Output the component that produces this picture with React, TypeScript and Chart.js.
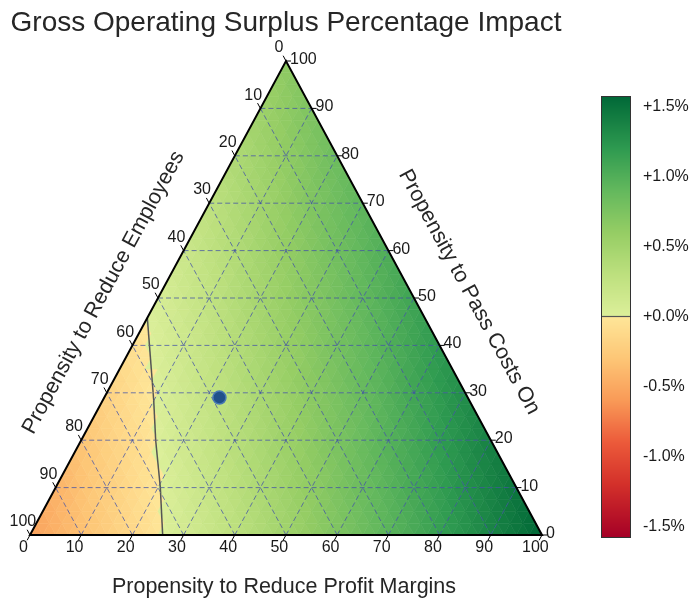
import React, { useEffect, useRef } from "react";
import { Chart, registerables } from "chart.js";

Chart.register(...registerables);

const TITLE = "Gross Operating Surplus Percentage Impact";
const BOTTOM_LABEL = "Propensity to Reduce Profit Margins";
const LEFT_LABEL = "Propensity to Reduce Employees";
const RIGHT_LABEL = "Propensity to Pass Costs On";

const AXIS_TICKS = [0, 10, 20, 30, 40, 50, 60, 70, 80, 90, 100];

// GOS impact (%) at grid nodes. Each row is a fixed "Pass Costs On" level,
// entries run along "Reduce Profit Margins" = 0, 10, 20, ...
const impactPass0 = [-0.55, -0.34, -0.13, 0.09, 0.3, 0.51, 0.73, 0.94, 1.15, 1.36, 1.575];
const impactPass10 = [-0.43, -0.22, -0.01, 0.21, 0.42, 0.63, 0.85, 1.06, 1.27, 1.48];
const impactPass20 = [-0.31, -0.1, 0.12, 0.33, 0.54, 0.75, 0.97, 1.18, 1.39];
const impactPass30 = [-0.19, 0.02, 0.24, 0.45, 0.66, 0.87, 1.09, 1.3];
const impactPass40 = [-0.07, 0.14, 0.36, 0.57, 0.78, 0.99, 1.21];
const impactPass50 = [0.05, 0.26, 0.48, 0.69, 0.9, 1.11];
const impactPass60 = [0.17, 0.38, 0.6, 0.81, 1.02];
const impactPass70 = [0.29, 0.5, 0.72, 0.93];
const impactPass80 = [0.41, 0.62, 0.84];
const impactPass90 = [0.53, 0.74];
const impactPass100 = [0.65];

// current scenario marker (ternary coordinates, %)
const POINT_PROFIT = [22.5];
const POINT_PASS = [29];
const POINT_EMPLOYEES = [48.5];

const CBAR_MIN = -1.575;
const CBAR_MAX = 1.575;
const CBAR_TICKS = [1.5, 1.0, 0.5, 0.0, -0.5, -1.0, -1.5];
const CBAR_LABELS = ["+1.5%", "+1.0%", "+0.5%", "+0.0%", "-0.5%", "-1.0%", "-1.5%"];

const NEG_STOPS: [number, string][] = [
  [-1.575, "#a50026"],
  [-1.2, "#d3302a"],
  [-0.9, "#ec5a3a"],
  [-0.6, "#f99a57"],
  [-0.3, "#fdc676"],
  [0, "#fee698"],
];
const POS_STOPS: [number, string][] = [
  [0, "#dcef9a"],
  [0.3, "#bde07e"],
  [0.6, "#95cd64"],
  [0.9, "#63b85d"],
  [1.2, "#2e9a50"],
  [1.575, "#006837"],
];

const GRID = [
  impactPass0, impactPass10, impactPass20, impactPass30, impactPass40, impactPass50,
  impactPass60, impactPass70, impactPass80, impactPass90, impactPass100,
];
const N = GRID.length - 1;
const STEP = 100 / N;
const SUB = 4;

const FONT = "'Liberation Sans', Arial, Helvetica, sans-serif";

function hexToRgb(h: string) {
  const n = parseInt(h.slice(1), 16);
  return [(n >> 16) & 255, (n >> 8) & 255, n & 255];
}

function colorFor(v: number) {
  const stops = v < 0 ? NEG_STOPS : POS_STOPS;
  if (v <= stops[0][0]) return stops[0][1];
  if (v >= stops[stops.length - 1][0]) return stops[stops.length - 1][1];
  for (let k = 0; k < stops.length - 1; k++) {
    const [v0, c0] = stops[k];
    const [v1, c1] = stops[k + 1];
    if (v >= v0 && v <= v1) {
      const t = (v - v0) / (v1 - v0);
      const a = hexToRgb(c0);
      const b = hexToRgb(c1);
      const r = Math.round(a[0] + (b[0] - a[0]) * t);
      const g = Math.round(a[1] + (b[1] - a[1]) * t);
      const bl = Math.round(a[2] + (b[2] - a[2]) * t);
      return `rgb(${r},${g},${bl})`;
    }
  }
  return stops[0][1];
}

function node(i: number, j: number) {
  return GRID[j][i];
}

// value inside the grid (grid units), linear within each grid triangle
function interp(b: number, p: number) {
  const i = Math.floor(b);
  const j = Math.floor(p);
  const fb = b - i;
  const fp = p - j;
  if (fb + fp <= 1) {
    return node(i, j) * (1 - fb - fp) + node(i + 1, j) * fb + node(i, j + 1) * fp;
  }
  return node(i + 1, j + 1) * (fb + fp - 1) + node(i + 1, j) * (1 - fp) + node(i, j + 1) * (1 - fb);
}

const toX = (profit: number, pass: number) => profit + pass / 2;

const ternaryPlugin = {
  id: "ternary",
  beforeDatasetsDraw(chart: any) {
    const ctx: CanvasRenderingContext2D = chart.ctx;
    const xs = chart.scales.x;
    const ys = chart.scales.y;
    const P = (b: number, p: number) => [xs.getPixelForValue(toX(b, p)), ys.getPixelForValue(p)];

    ctx.save();
    // heatmap
    const M = N * SUB;
    const fs = 100 / M;
    const tri = (pts: number[][], v: number) => {
      const c = colorFor(v);
      ctx.beginPath();
      const a = P(pts[0][0] * fs, pts[0][1] * fs);
      ctx.moveTo(a[0], a[1]);
      for (let k = 1; k < 3; k++) {
        const q = P(pts[k][0] * fs, pts[k][1] * fs);
        ctx.lineTo(q[0], q[1]);
      }
      ctx.closePath();
      ctx.fillStyle = c;
      ctx.strokeStyle = c;
      ctx.lineWidth = 0.6;
      ctx.fill();
      ctx.stroke();
    };
    for (let j = 0; j < M; j++) {
      for (let i = 0; i < M - j; i++) {
        tri([[i, j], [i + 1, j], [i, j + 1]], interp((i + 1 / 3) / SUB, (j + 1 / 3) / SUB));
        if (i + j <= M - 2) {
          tri([[i + 1, j], [i, j + 1], [i + 1, j + 1]], interp((i + 2 / 3) / SUB, (j + 2 / 3) / SUB));
        }
      }
    }

    // dashed grid
    ctx.setLineDash([5, 3]);
    ctx.strokeStyle = "rgba(66, 80, 165, 0.75)";
    ctx.lineWidth = 1;
    const line = (a: number[], b: number[]) => {
      ctx.beginPath();
      ctx.moveTo(a[0], a[1]);
      ctx.lineTo(b[0], b[1]);
      ctx.stroke();
    };
    for (const v of AXIS_TICKS) {
      if (v === 0 || v === 100) continue;
      line(P(0, v), P(100 - v, v));
      line(P(v, 0), P(v, 100 - v));
      line(P(100 - v, 0), P(0, 100 - v));
    }
    ctx.setLineDash([]);

    // zero contour (marching triangles over the grid)
    ctx.strokeStyle = "#555555";
    ctx.lineWidth = 1.5;
    const seg = (nodes: number[][]) => {
      const vals = nodes.map((n) => node(n[0], n[1]));
      const pts: number[][] = [];
      for (let k = 0; k < 3; k++) {
        const a = k, b = (k + 1) % 3;
        if ((vals[a] < 0) !== (vals[b] < 0)) {
          const t = vals[a] / (vals[a] - vals[b]);
          const bb = (nodes[a][0] + (nodes[b][0] - nodes[a][0]) * t) * STEP;
          const pp = (nodes[a][1] + (nodes[b][1] - nodes[a][1]) * t) * STEP;
          pts.push(P(bb, pp));
        }
      }
      if (pts.length === 2) line(pts[0], pts[1]);
    };
    for (let j = 0; j < N; j++) {
      for (let i = 0; i < N - j; i++) {
        seg([[i, j], [i + 1, j], [i, j + 1]]);
        if (i + j <= N - 2) seg([[i + 1, j], [i, j + 1], [i + 1, j + 1]]);
      }
    }

    // border
    const BL = P(0, 0);
    const BR = P(100, 0);
    const TOP = P(0, 100);
    ctx.strokeStyle = "#000";
    ctx.lineWidth = 2;
    ctx.lineJoin = "miter";
    ctx.beginPath();
    ctx.moveTo(BL[0], BL[1]);
    ctx.lineTo(BR[0], BR[1]);
    ctx.lineTo(TOP[0], TOP[1]);
    ctx.closePath();
    ctx.stroke();

    // ticks + labels
    const norm = (a: number[], b: number[]) => {
      const dx = b[0] - a[0], dy = b[1] - a[1];
      const l = Math.hypot(dx, dy);
      return [dx / l, dy / l];
    };
    const leftDir = norm(BR, TOP);
    const bottomDir = norm(TOP, BL);
    ctx.lineWidth = 1;
    ctx.strokeStyle = "#000";
    ctx.fillStyle = "#1a1a1a";
    ctx.font = `16px ${FONT}`;
    ctx.textBaseline = "middle";
    for (const v of AXIS_TICKS) {
      // left axis: employees = v  -> profit 0, pass 100-v
      const e = P(0, 100 - v);
      line(e, [e[0] + leftDir[0] * 6, e[1] + leftDir[1] * 6]);
      ctx.textAlign = "center";
      ctx.fillText(String(v), e[0] + leftDir[0] * 15, e[1] + leftDir[1] * 15);
      // bottom axis: profit = v
      const b = P(v, 0);
      line(b, [b[0] + bottomDir[0] * 6, b[1] + bottomDir[1] * 6]);
      ctx.fillText(String(v), b[0] + bottomDir[0] * 14, b[1] + bottomDir[1] * 14);
      // right axis: pass = v
      const r = P(100 - v, v);
      line(r, [r[0] + 5, r[1]]);
      ctx.textAlign = "left";
      ctx.fillText(String(v), r[0] + 4, r[1] - 1.5);
    }

    // axis titles
    ctx.fillStyle = "#262626";
    ctx.font = `21.5px ${FONT}`;
    ctx.textAlign = "center";
    ctx.textBaseline = "alphabetic";
    ctx.fillText(BOTTOM_LABEL, (BL[0] + BR[0]) / 2 - 2, 593);
    const ang = Math.atan2(TOP[1] - BL[1], TOP[0] - BL[0]);
    ctx.textBaseline = "middle";
    ctx.save();
    ctx.translate(103.5, 292.5);
    ctx.rotate(ang);
    ctx.fillText(LEFT_LABEL, 0, 0);
    ctx.restore();
    ctx.save();
    ctx.translate(469, 292);
    ctx.rotate(-ang);
    ctx.fillText(RIGHT_LABEL, 0, 0);
    ctx.restore();

    // title
    ctx.font = `28px ${FONT}`;
    ctx.fillStyle = "#262626";
    ctx.textBaseline = "alphabetic";
    ctx.fillText(TITLE, (BL[0] + BR[0]) / 2, 31);

    // colorbar
    const cx0 = 601, cx1 = 630, cy0 = 96, cy1 = 537;
    const cy = (v: number) => cy1 - ((v - CBAR_MIN) / (CBAR_MAX - CBAR_MIN)) * (cy1 - cy0);
    for (let y = cy0; y < cy1; y++) {
      const v = CBAR_MIN + ((cy1 - (y + 0.5)) / (cy1 - cy0)) * (CBAR_MAX - CBAR_MIN);
      ctx.fillStyle = colorFor(v);
      ctx.fillRect(cx0, y, cx1 - cx0, 1);
    }
    ctx.strokeStyle = "#555";
    ctx.lineWidth = 1.2;
    line([cx0, cy(0)], [cx1, cy(0)]);
    ctx.strokeStyle = "#333";
    ctx.lineWidth = 1;
    ctx.strokeRect(cx0 + 0.5, cy0 + 0.5, cx1 - cx0, cy1 - cy0);
    ctx.fillStyle = "#1a1a1a";
    ctx.font = `16px ${FONT}`;
    ctx.textAlign = "left";
    ctx.textBaseline = "middle";
    CBAR_TICKS.forEach((t, k) => {
      ctx.fillText(CBAR_LABELS[k], 643, cy(t));
    });
    ctx.restore();
  },
};

export default function App() {
  const ref = useRef<HTMLCanvasElement>(null);
  useEffect(() => {
    const pointData = POINT_PROFIT.map((b, k) => ({ x: toX(b, POINT_PASS[k]), y: POINT_PASS[k], e: POINT_EMPLOYEES[k] }));
    const chart = new Chart(ref.current as HTMLCanvasElement, {
      type: "scatter",
      data: {
        datasets: [
          {
            data: pointData,
            pointRadius: 6.5,
            pointBackgroundColor: "#21508a",
            pointBorderColor: "#4677b4",
            pointBorderWidth: 1.5,
          },
        ],
      },
      options: {
        responsive: false,
        animation: false,
        devicePixelRatio: 1,
        events: [],
        layout: { padding: { left: 30, right: 154, top: 61, bottom: 69 } },
        scales: {
          x: { type: "linear", min: 0, max: 100, display: false },
          y: { type: "linear", min: 0, max: 100, display: false },
        },
        plugins: {
          legend: { display: false },
          tooltip: { enabled: false },
          title: { display: false },
        },
      },
      plugins: [ternaryPlugin],
    } as any);
    return () => chart.destroy();
  }, []);
  return (
    <div style={{ position: "fixed", left: 0, top: 0, width: 696, height: 604, background: "#fff" }}>
      <canvas ref={ref} width={696} height={604} style={{ display: "block" }} />
    </div>
  );
}
